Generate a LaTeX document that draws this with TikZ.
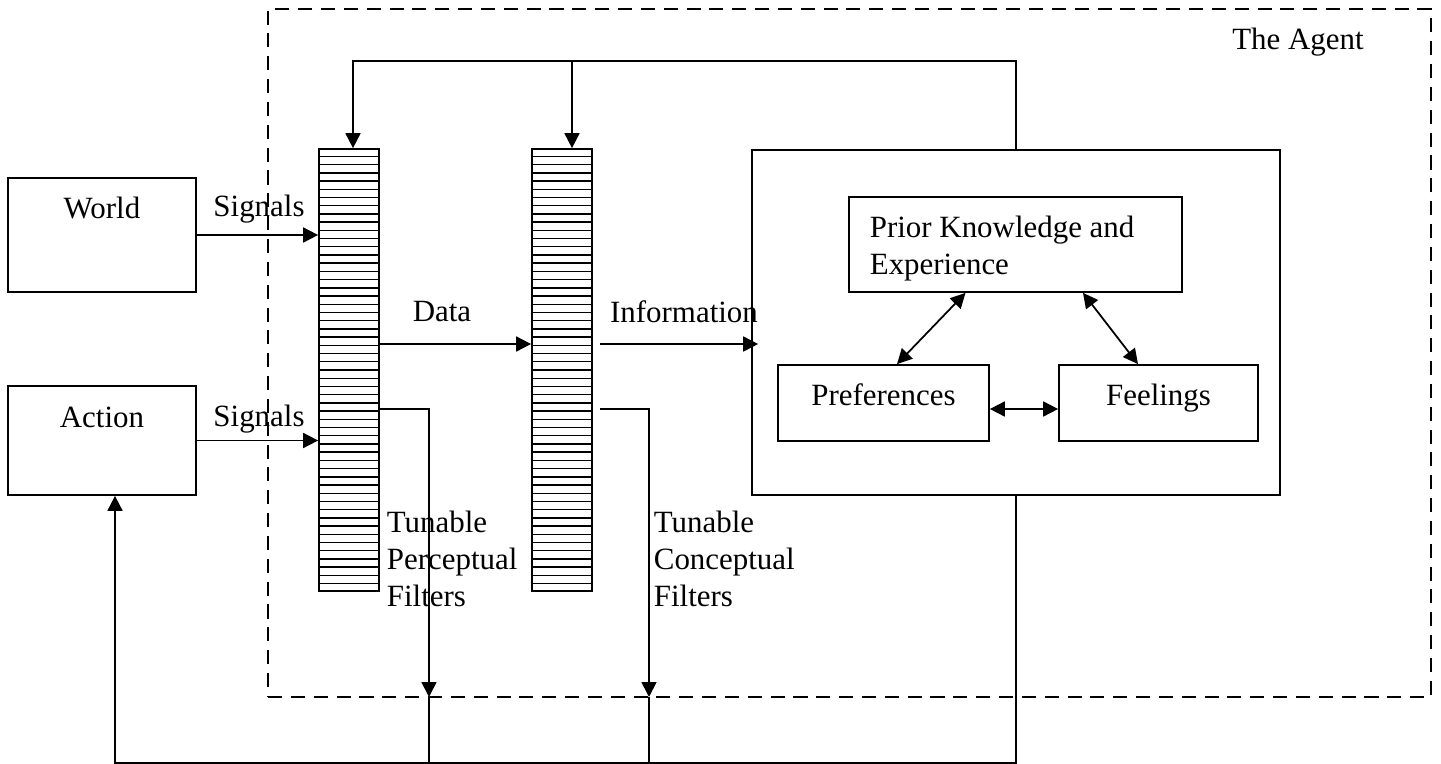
\documentclass[tikz,border=0pt]{standalone}
\usepackage{fontspec}
\setmainfont{Liberation Serif}
\usetikzlibrary{arrows.meta,calc,positioning}

\begin{document}
\begin{tikzpicture}[x=0.02cm, y=-0.02cm, line width=1pt,
    >={Triangle[length=8.5pt,width=8.5pt]},
    every node/.style={font=\fontsize{17.6}{21}\selectfont},
    block/.style={draw, line width=1pt, inner sep=0pt},
    filter/.style={draw, line width=1pt, inner sep=0pt, minimum width=1.2cm, minimum height=8.84cm},
    stripe/.style={line width=0.8pt},
    txt/.style={inner sep=0pt, align=left, anchor=west}]
  \useasboundingbox (0,0) rectangle (1441,764);

  \node[block, dash pattern=on 8pt off 5pt, minimum width=23.26cm, minimum height=13.76cm] (agent) at (849.5,353) {};
  \node (agenttxt) at (1298,42) {The Agent};

  \node[block, minimum width=3.76cm, minimum height=2.28cm] (world) at (102,235) {};
  \node (worldtxt) at (102,208) {World};
  \node[block, minimum width=3.76cm, minimum height=2.18cm] (action) at (102,440.5) {};
  \node (actiontxt) at (102,417) {Action};

  \node[filter] (percept) at (349,370) {};
  \node[filter] (concept) at (562,370) {};
  \foreach \f in {percept,concept}
    \foreach \i in {1,...,53}
      \draw[stripe] ($(\f.north west)!\i/54!(\f.south west)$) -- ($(\f.north east)!\i/54!(\f.south east)$);

  \node[block, minimum width=10.56cm, minimum height=6.9cm] (mind) at (1016,322.5) {};
  \node[block, minimum width=6.66cm, minimum height=1.9cm] (prior) at (1015.5,244.5) {};
  \node[txt] (priortxt) at (869,249) {Prior Knowledge and\\Experience};
  \node[block, minimum width=4.22cm, minimum height=1.52cm] (prefs) at (883.5,403) {};
  \node (prefstxt) at (883.5,395) {Preferences};
  \node[block, minimum width=3.98cm, minimum height=1.52cm] (feel) at (1158.5,403) {};
  \node (feeltxt) at (1158.5,398) {Feelings};

  \draw[->] (world.east) -- (world.east -| percept.west);
  \node (sigworld) at (259,209) {Signals};
  \draw[->] (action.east) -- (action.east -| percept.west);
  \node (sigaction) at (259,419) {Signals};

  \draw[->] ([yshift=0.52cm]percept.east) -- ([yshift=0.52cm]concept.west);
  \node (datatxt) at (442,312) {Data};
  \draw[->] ([xshift=0.14cm,yshift=0.52cm]concept.east) -- ([xshift=0.14cm,yshift=0.52cm]concept.east -| mind.west);
  \node (infotxt) at (684,312) {Information};

  \draw[<->] ([yshift=-0.12cm]prefs.east) -- ([yshift=-0.12cm]feel.west);
  \draw[<->] ([xshift=0.27cm]prefs.north) -- ([xshift=-1cm]prior.south);
  \draw[<->] ([xshift=1.35cm]prior.south) -- ([xshift=-0.41cm]feel.north);

  \coordinate (top) at (0,61);
  \coordinate (back) at (115,763);
  \coordinate (pdrop) at (429,697);
  \coordinate (cdrop) at (649,697);
  \coordinate (pin) at ([xshift=0.08cm]percept.north);
  \coordinate (cin) at ([xshift=0.2cm]concept.north);

  \draw[->] (mind.north) |- (top -| pin) -- (pin);
  \draw[->] (cin |- top) -- (cin);

  \draw[->] ([yshift=-0.78cm]percept.east) -| (pdrop);
  \draw[->] ([xshift=0.14cm,yshift=-0.78cm]concept.east) -| (cdrop);
  \draw (pdrop) -- (pdrop |- back);
  \draw (cdrop) -- (cdrop |- back);
  \draw[->] (mind.south) |- (back) -- (action.south -| back);

  \node[txt] (ptune) at (386,559) {Tunable\\Perceptual\\Filters};
  \node[txt] (ctune) at (653,559) {Tunable\\Conceptual\\Filters};
\end{tikzpicture}
\end{document}
